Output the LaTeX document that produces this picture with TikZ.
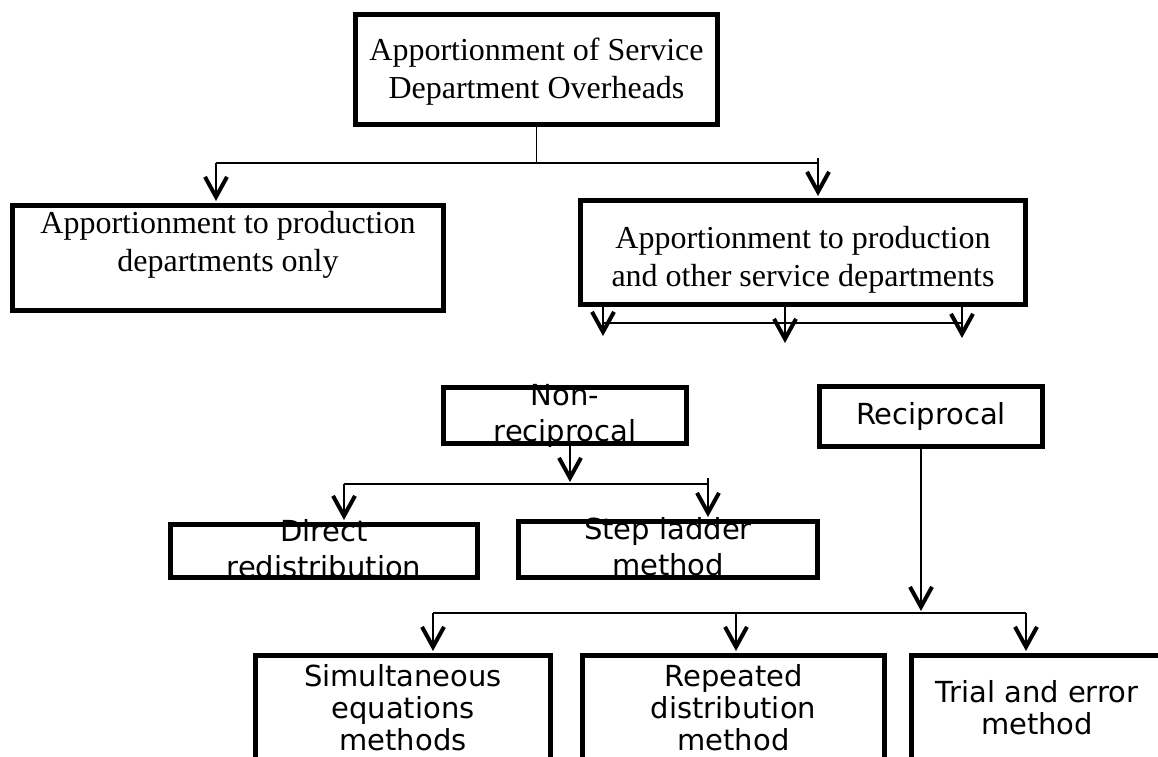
\documentclass[tikz,border=0pt]{standalone}
\usepackage{fontspec}
\setmainfont{Liberation Serif}
\newfontfamily\chuSans{DejaVu Sans}
\usetikzlibrary{arrows.meta,positioning}
\newcommand\noidung[2][0pt]{\smash{\raisebox{\dimexpr-.25em-#1\relax}{\begin{tabular}{@{}c@{}}#2\end{tabular}}}}
\begin{document}
\begin{tikzpicture}[x=0.5pt,y=-0.5pt]
	\tikzset{
		khung/.style={draw,line width=2.5pt,inner sep=0pt},
		khungserif/.style={khung,font=\fontsize{16}{19}\selectfont},
		khungsans/.style={khung,font=\chuSans\fontsize{14.5}{18}\selectfont},
		khungday/.style={khungsans,font=\chuSans\fontsize{14.5}{16}\selectfont,minimum height=55pt},
		noi/.style={line width=0.8pt},
		muiten/.style={noi,shorten >=1pt,-{Straight Barb[length=10pt,width=11pt,line width=2pt,sharp]}}
	}
	\useasboundingbox (0,0) rectangle (1158,756);
	
	%Hang 1, 2
	\node[khungserif,minimum width=181pt,minimum height=55pt] (goc) at (536.5,69.5) {\noidung[1.5pt]{Apportionment of Service\\Department Overheads}};
	\node[khungserif,minimum width=215.5pt,minimum height=52.5pt] (trai) at (228,258) {\noidung[3.5pt]{Apportionment to production\\departments only\\ ~}};
	\node[khungserif,minimum width=222.5pt,minimum height=52pt] (phai) at (803,252.5) {\noidung[4pt]{Apportionment to production\\and other service departments}};
	
	%Hang 3, 4
	\node[khungsans,minimum width=121.5pt,minimum height=28pt] (khongtuong) at (565,415.5) {\noidung[0.5pt]{Non-\\reciprocal}};
	\node[khungsans,minimum width=111.5pt,minimum height=30pt] (tuonghoi) at (931,416.5) {\noidung[0.5pt]{Reciprocal}};
	\node[khungsans,minimum width=153.5pt,minimum height=26.5pt] (tructiep) at (324,551) {\noidung[0.5pt]{Direct\\redistribution}};
	\node[khungsans,minimum width=149.5pt,minimum height=28pt] (bacthang) at (668,549.5) {\noidung[0.5pt]{Step ladder\\method}};
	
	%Hang 5
	\node[khungday,minimum width=147.5pt] (dongthoi) at (403,710.5) {\noidung[1pt]{Simultaneous\\equations\\methods}};
	\node[khungday,minimum width=151pt] (laplai) at (733.5,710.5) {\noidung[1pt]{Repeated\\distribution\\method}};
	\node[khungday,minimum width=125.5pt] (thusai) at (1037,710.5) {\noidung[1pt]{Trial and error\\method}};
	
	%Noi
	\coordinate (nhanhA) at (216,163);
	\coordinate (nhanhB) at (818,163);
	\draw[noi] (goc.south) -- (goc.south |- nhanhA);
	\draw[noi] (nhanhA) -- (nhanhB);
	\draw[muiten] (nhanhA) -- (nhanhA |- trai.north);
	\draw[muiten] ([yshift=2.5pt]nhanhB) -- (nhanhB |- phai.north);
	
	\foreach \x/\goc/\ten in {603/338/mA, 785/345/mB, 962/340/mC}{
		\coordinate (\ten) at (\x,\goc);
		\draw[muiten] (phai.south -| \ten) -- (\ten);
	}
	\draw[noi] (mA |- 0,323) -- (mC |- 0,323);
	
	\coordinate (nhanhC) at (344,484);
	\coordinate (nhanhD) at (708,484);
	\draw[noi] (nhanhC) -- (nhanhD);
	\draw[muiten] ([xshift=2.5pt]khongtuong.south) -- ([xshift=2.5pt]khongtuong.south |- nhanhC);
	\draw[muiten] (nhanhC) -- (nhanhC |- tructiep.north);
	\draw[muiten] ([yshift=3pt]nhanhD) -- (nhanhD |- bacthang.north);
	
	\coordinate (nhanhE) at (433,613);
	\coordinate (nhanhF) at (736,613);
	\coordinate (nhanhG) at (1026,613);
	\draw[noi] (nhanhE) -- (nhanhG);
	\draw[muiten] ([xshift=-5pt]tuonghoi.south) -- ([xshift=-5pt]tuonghoi.south |- nhanhE);
	\draw[muiten] (nhanhE) -- (nhanhE |- dongthoi.north);
	\draw[muiten] (nhanhF) -- (nhanhF |- laplai.north);
	\draw[muiten] (nhanhG) -- (nhanhG |- thusai.north);
\end{tikzpicture}
\end{document}
